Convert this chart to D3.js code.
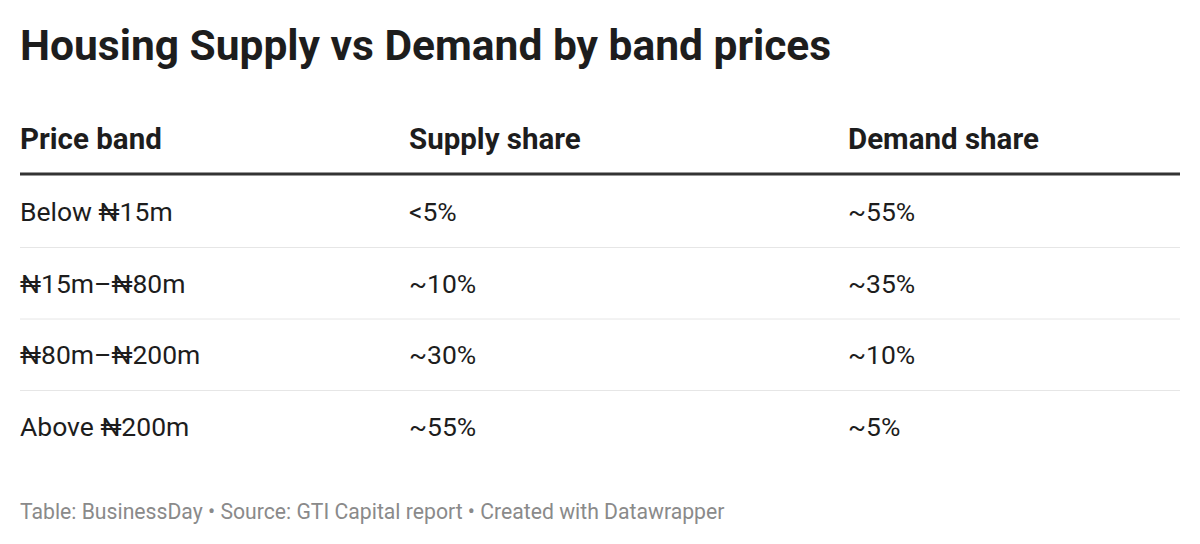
<!DOCTYPE html>
<html><head><meta charset="utf-8">
<script src="https://cdn.jsdelivr.net/npm/d3@7"></script>
<style>body{margin:0;background:#fff;font-family:Roboto,sans-serif}</style>
</head><body><div id="chart"></div>
<script>
var columns = ["Price band", "Supply share", "Demand share"];
var bands = ["Below ₦15m", "₦15m–₦80m", "₦80m–₦200m", "Above ₦200m"];
var supply = ["<5%", "~10%", "~30%", "~55%"];
var demand = ["~55%", "~35%", "~10%", "~5%"];

var W = 1200, H = 544;
var svg = d3.select('#chart').append('svg').attr('width', W).attr('height', H);

svg.append('text').attr('x', 20).attr('y', 60)
    .style('font-size', '42.5px').style('font-weight', 700).attr('fill', '#1d1d1d')
    .text("Housing Supply vs Demand by band prices");

var x = d3.scaleOrdinal().domain(columns).range([20, 409, 848]);
var y = d3.scaleBand().domain(bands).range([176, 462]);

svg.selectAll('text.head').data(columns).enter().append('text')
    .attr('class', 'head')
    .attr('x', function(d){return x(d)}).attr('y', 149)
    .style('font-size', '29.5px').style('font-weight', 700).attr('fill', '#1d1d1d')
    .text(function(d){return d});

svg.append('line').attr('x1', 20).attr('x2', 1180).attr('y1', 174).attr('y2', 174)
    .attr('stroke', '#333').attr('stroke-width', 3);

var rows = bands.map(function(b, i){ return [b, supply[i], demand[i]]; });

var g = svg.selectAll('g.row').data(rows).enter().append('g')
    .attr('transform', function(d){return 'translate(0,' + y(d[0]) + ')'});

g.filter(function(d, i){return i < bands.length - 1}).append('line')
    .attr('x1', 20).attr('x2', 1180).attr('y1', y.bandwidth()).attr('y2', y.bandwidth())
    .attr('stroke', '#e6e6e6').attr('stroke-width', 1);

g.selectAll('text').data(function(d){return d}).enter().append('text')
    .attr('x', function(d, i){return x(columns[i])})
    .attr('y', y.bandwidth() / 2).attr('dy', '0.35em')
    .style('font-size', '26.5px').attr('fill', '#1d1d1d')
    .text(function(d){return d});

svg.append('text').attr('x', 20).attr('y', 519)
    .style('font-size', '21.2px').attr('fill', '#8a8a8a')
    .text("Table: BusinessDay • Source: GTI Capital report • Created with Datawrapper");
</script>
</body></html>
